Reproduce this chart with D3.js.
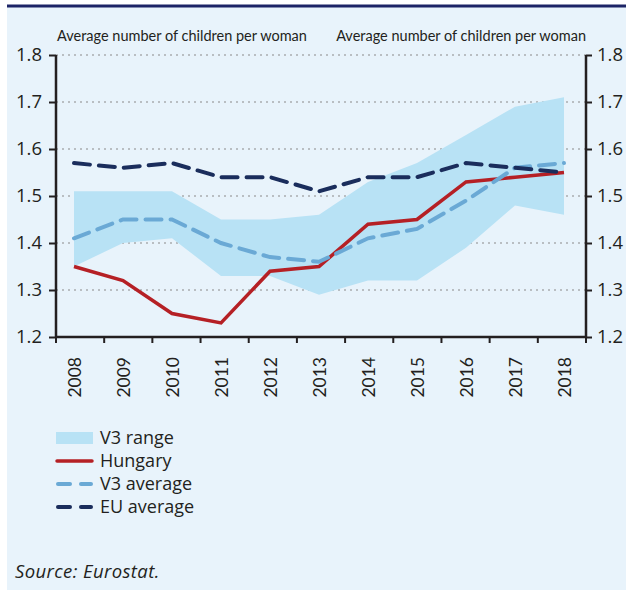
<!DOCTYPE html>
<html>
<head>
<meta charset="utf-8">
<script src="https://cdn.jsdelivr.net/npm/d3@7/dist/d3.min.js"></script>
<style>
  html, body { margin: 0; padding: 0; background: #ffffff; }
  svg { display: block; }
</style>
</head>
<body>
<svg id="chart" width="628" height="590"></svg>
<script>
// Total fertility rate, 2008–2018
const years = ["2008","2009","2010","2011","2012","2013","2014","2015","2016","2017","2018"];
const hungary   = [1.35, 1.32, 1.25, 1.23, 1.34, 1.35, 1.44, 1.45, 1.53, 1.54, 1.55];
const v3Average = [1.41, 1.45, 1.45, 1.40, 1.37, 1.36, 1.41, 1.43, 1.49, 1.56, 1.57];
const euAverage = [1.57, 1.56, 1.57, 1.54, 1.54, 1.51, 1.54, 1.54, 1.57, 1.56, 1.55];
const v3Low     = [1.35, 1.40, 1.41, 1.33, 1.33, 1.29, 1.32, 1.32, 1.39, 1.48, 1.46];
const v3High    = [1.51, 1.51, 1.51, 1.45, 1.45, 1.46, 1.53, 1.57, 1.63, 1.69, 1.71];
const yTicks = [1.2, 1.3, 1.4, 1.5, 1.6, 1.7, 1.8];
const axisTitle = "Average number of children per woman";
const legendItems = [
  { label: "V3 range",   kind: "area" },
  { label: "Hungary",    kind: "solid",  color: "#b52025" },
  { label: "V3 average", kind: "dash",   color: "#6aa9d5" },
  { label: "EU average", kind: "dash",   color: "#1a2d5c" }
];
const sourceNote = "Source: Eurostat.";

const LATO = "Lato, 'Open Sans', sans-serif";
const OPEN = "'Open Sans', Lato, sans-serif";
const ink = "#231f20";

const svg = d3.select("#chart");

// panel background and top rule
svg.append("rect").attr("x", 7).attr("y", 7).attr("width", 619).attr("height", 583).attr("fill", "#e8f3fb");
svg.append("rect").attr("x", 7).attr("y", 4.5).attr("width", 619).attr("height", 3).attr("fill", "#1c2466");

const plotL = 56, plotR = 586;
const y = d3.scaleLinear().domain([1.2, 1.8]).range([337, 55]);
const xBand = d3.scaleBand().domain(years).range([plotL, plotR]);
const x = d3.scalePoint().domain(years).range([74, 564]);

// horizontal dotted gridlines
svg.append("g").selectAll("line")
  .data(yTicks.filter(t => t > 1.2))
  .join("line")
  .attr("x1", plotL).attr("x2", plotR)
  .attr("y1", d => y(d)).attr("y2", d => y(d))
  .attr("stroke", "#8a8a8a").attr("stroke-width", 1.2)
  .attr("stroke-dasharray", "2 4");

// V3 range band
const area = d3.area()
  .x((d, i) => x(years[i]))
  .y0((d, i) => y(v3Low[i]))
  .y1((d, i) => y(v3High[i]));
svg.append("path").datum(years).attr("d", area).attr("fill", "#b8e2f5");

const line = d3.line().x((d, i) => x(years[i])).y(d => y(d));

svg.append("path").datum(hungary).attr("d", line)
  .attr("fill", "none").attr("stroke", "#b52025").attr("stroke-width", 3.5);
svg.append("path").datum(v3Average).attr("d", line)
  .attr("fill", "none").attr("stroke", "#6aa9d5").attr("stroke-width", 4)
  .attr("stroke-dasharray", "16 9").attr("stroke-linecap", "round");
svg.append("path").datum(euAverage).attr("d", line)
  .attr("fill", "none").attr("stroke", "#1a2d5c").attr("stroke-width", 4)
  .attr("stroke-dasharray", "16 9").attr("stroke-linecap", "round");

// y axes on both sides
const leftAxis = svg.append("g").attr("transform", `translate(${plotL},0)`)
  .call(d3.axisLeft(y).tickValues(yTicks).tickFormat(d3.format(".1f")).tickSize(7).tickPadding(7));
const rightAxis = svg.append("g").attr("transform", `translate(${plotR},0)`)
  .call(d3.axisRight(y).tickValues(yTicks).tickFormat(d3.format(".1f")).tickSize(6).tickPadding(5));
[leftAxis, rightAxis].forEach(g => {
  g.select(".domain").attr("stroke", ink).attr("stroke-width", 2.5).attr("d", `M0,${y(1.8)}V${y(1.2)}`);
  g.selectAll(".tick line").attr("stroke", ink).attr("stroke-width", 2);
  g.selectAll(".tick text").attr("fill", ink)
    .style("font-size", "18.5px").style("font-family", OPEN);
});

// x axis: baseline with tick marks between years
const xAxis = svg.append("g").attr("transform", `translate(0,${y(1.2)})`);
xAxis.append("line").attr("x1", plotL).attr("x2", plotR)
  .attr("stroke", ink).attr("stroke-width", 2.5);
xAxis.selectAll("line.tk")
  .data(years.concat(["end"]))
  .join("line").attr("class", "tk")
  .attr("x1", (d, i) => i < years.length ? xBand(d) : plotR)
  .attr("x2", (d, i) => i < years.length ? xBand(d) : plotR)
  .attr("y1", 0).attr("y2", 6)
  .attr("stroke", ink).attr("stroke-width", 2);

// year labels, rotated
svg.append("g").selectAll("text")
  .data(years)
  .join("text")
  .attr("transform", d => `translate(${x(d) + 1},357) rotate(-90)`)
  .attr("text-anchor", "end")
  .attr("dy", "0.36em")
  .attr("fill", ink)
  .style("font-family", LATO).style("font-size", "17.5px")
  .text(d => d);

// axis titles
svg.append("text").attr("x", 57).attr("y", 41).attr("fill", ink)
  .style("font-family", LATO).style("font-size", "14.5px").text(axisTitle);
svg.append("text").attr("x", 586).attr("y", 41).attr("text-anchor", "end").attr("fill", ink)
  .style("font-family", LATO).style("font-size", "14.5px").text(axisTitle);

// legend
const legend = svg.append("g");
const rowY = [438, 461, 484, 507];
legendItems.forEach((item, i) => {
  const g = legend.append("g").attr("transform", `translate(0,${rowY[i]})`);
  if (item.kind === "area") {
    g.append("rect").attr("x", 56).attr("y", -6).attr("width", 37).attr("height", 12).attr("fill", "#b8e2f5");
  } else if (item.kind === "solid") {
    g.append("line").attr("x1", 57).attr("x2", 92).attr("stroke", item.color).attr("stroke-width", 3.5)
      .attr("stroke-linecap", "round");
  } else {
    g.append("line").attr("x1", 58).attr("x2", 70).attr("stroke", item.color).attr("stroke-width", 4)
      .attr("stroke-linecap", "round");
    g.append("line").attr("x1", 81).attr("x2", 91).attr("stroke", item.color).attr("stroke-width", 4)
      .attr("stroke-linecap", "round");
  }
  g.append("text").attr("x", 100).attr("dy", "0.35em").attr("fill", ink)
    .style("font-family", OPEN).style("font-size", "18px").text(item.label);
});

// source note
svg.append("text").attr("x", 15).attr("y", 578).attr("fill", ink)
  .style("font-family", OPEN).style("font-size", "18.5px").style("letter-spacing", "0.4px")
  .style("font-style", "italic").text(sourceNote);
</script>
</body>
</html>
